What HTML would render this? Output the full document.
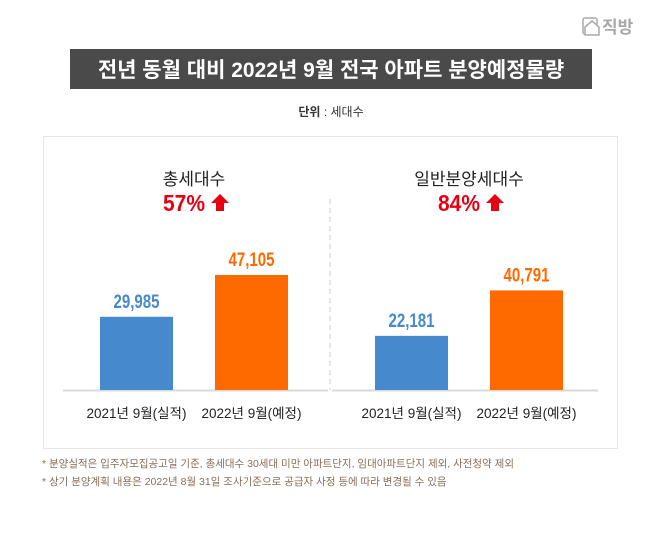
<!DOCTYPE html>
<html><head><meta charset="utf-8">
<style>
html,body{margin:0;padding:0;background:#fff;}
body{width:658px;height:528px;position:relative;overflow:hidden;font-family:"Liberation Sans","Noto Sans CJK KR",sans-serif;}
</style></head>
<body>
<svg width="658" height="528" viewBox="0 0 658 528" xmlns="http://www.w3.org/2000/svg">
  <g>
    <rect x="583" y="18" width="14" height="16" rx="2" fill="none" stroke="#aaa" stroke-width="1.5"/>
    <path d="M585 27 L592 21 L599 27 L599 35 L585 35 Z" fill="#fff" stroke="#aaa" stroke-width="1.5"/>
    <text x="602" y="33" font-size="17" font-weight="bold" fill="#a8a8a8" font-family="'Liberation Sans','Noto Sans CJK KR',sans-serif">직방</text>
  </g>
  <rect x="70" y="49" width="522" height="40" fill="#4a4a4a"/>
  <text x="331" y="77" text-anchor="middle" font-size="21" font-weight="bold" fill="#fff">전년 동월 대비 2022년 9월 전국 아파트 분양예정물량</text>
  <text x="331" y="116" text-anchor="middle" font-size="12" fill="#333"><tspan font-weight="bold">단위</tspan> : 세대수</text>
  <rect x="43.5" y="136.5" width="574" height="312" fill="#fff" stroke="#e6e6e6"/>
  <line x1="330" y1="199" x2="330" y2="390" stroke="#ccc" stroke-dasharray="5,4"/>
  <g id="bars"></g>
  <text x="42" y="467" font-size="10.5" fill="#8a6e55">* 분양실적은 입주자모집공고일 기준, 총세대수 30세대 미만 아파트단지, 임대아파트단지 제외, 사전청약 제외</text>
  <text x="42" y="485" font-size="10.5" fill="#8a6e55">* 상기 분양계획 내용은 2022년 8월 31일 조사기준으로 공급자 사정 등에 따라 변경될 수 있음</text>
</svg>
<script>
const groupTitles = ["총세대수", "일반분양세대수"];
const growthLabels = ["57%", "84%"];
const categories = ["2021년 9월(실적)", "2022년 9월(예정)"];
const totalValues = [29985, 47105];
const generalValues = [22181, 40791];
const seriesSets = [totalValues, generalValues];

const NS = "http://www.w3.org/2000/svg";
const g = document.getElementById("bars");
const baseY = 390;
const scale = 115 / 47105;
const yOf = v => baseY - v * scale;
const groupLeft = [100, 375];
const barW = 73, barGap = 42;
const colors = ["#4689cc", "#ff6a00"];
const lineRanges = [[63, 328], [332, 598]];
function el(tag, attrs, text) {
  const e = document.createElementNS(NS, tag);
  for (const k in attrs) e.setAttribute(k, attrs[k]);
  if (text !== undefined) e.textContent = text;
  g.appendChild(e);
  return e;
}
seriesSets.forEach((vals, gi) => {
  const lr = lineRanges[gi];
  const base = el("line", {x1: lr[0], x2: lr[1], y1: baseY + 0.5, y2: baseY + 0.5, stroke: "#d9d9d9", "stroke-width": 2});
  
  
  const gx0 = groupLeft[gi], gcx = gx0 + barW + barGap / 2;
  const t = el("text", {x: gcx, y: 185, "text-anchor": "middle", "font-size": 17, fill: "#222"}, groupTitles[gi]);
  
  
  const p = el("text", {x: gcx - 10, y: 211, "text-anchor": "middle", "font-size": 23, "font-weight": "bold", fill: "#e60012", textLength: 42, lengthAdjust: "spacingAndGlyphs"}, growthLabels[gi]);
  
  
  const ax = gcx + 26;
  const arr = el("path", {d: `M${ax-9} 203 L${ax} 194 L${ax+9} 203 L${ax+4} 203 L${ax+4} 211 L${ax-4} 211 L${ax-4} 203 Z`, fill: "#e60012"});
  
  
  vals.forEach((v, i) => {
    const x = gx0 + i * (barW + barGap);
    const y = yOf(v);
    const r = el("rect", {x: x, y: y, width: barW, height: baseY - y, fill: colors[i]});
    
    
    const lbl = el("text", {x: x + barW / 2, y: y - 9, "text-anchor": "middle", "font-size": 19, "font-weight": "bold", fill: colors[i], textLength: 46, lengthAdjust: "spacingAndGlyphs"}, v.toLocaleString("en-US"));
    
    
    const c = el("text", {x: x + barW / 2, y: 418, "text-anchor": "middle", "font-size": 13.5, fill: "#222"}, categories[i]);
    
    
  });
});
</script>
</body></html>
